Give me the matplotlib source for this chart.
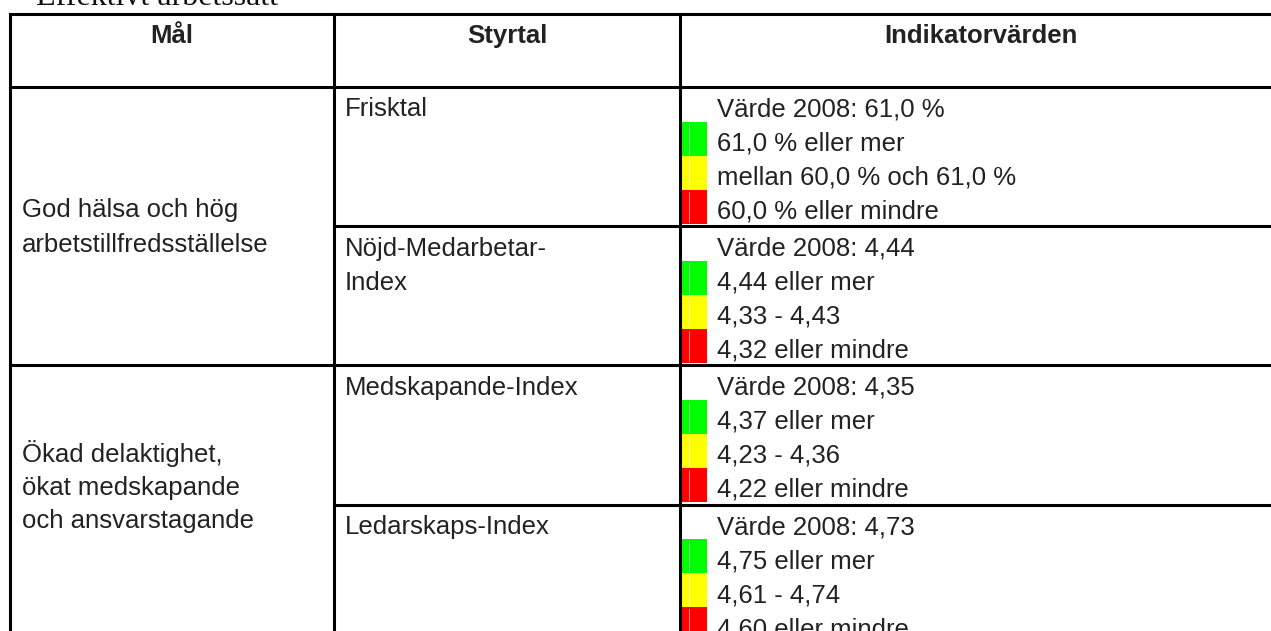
import matplotlib
matplotlib.use("Agg")
import matplotlib.pyplot as plt
from matplotlib.patches import Rectangle

# ---- data ----
title = "Effektivt arbetssätt"
headers = ["Mål", "Styrtal", "Indikatorvärden"]
goals = [["God hälsa och hög", "arbetstillfredsställelse"],
         ["Ökad delaktighet,", "ökat medskapande", "och ansvarstagande"]]
metrics = [["Frisktal"], ["Nöjd-Medarbetar-", "Index"],
           ["Medskapande-Index"], ["Ledarskaps-Index"]]
metric_goal = [0, 0, 1, 1]
indicators = [
    ["Värde 2008: 61,0 %", "61,0 % eller mer", "mellan 60,0 % och 61,0 %", "60,0 % eller mindre"],
    ["Värde 2008: 4,44", "4,44 eller mer", "4,33 - 4,43", "4,32 eller mindre"],
    ["Värde 2008: 4,35", "4,37 eller mer", "4,23 - 4,36", "4,22 eller mindre"],
    ["Värde 2008: 4,73", "4,75 eller mer", "4,61 - 4,74", "4,60 eller mindre"],
]
status_colors = [None, "#00ff00", "#ffff00", "#ff0000"]

# ---- layout (pixels) ----
W, H = 1271, 631
fig = plt.figure(figsize=(W / 100, H / 100), dpi=100)
ax = fig.add_axes([0, 0, 1, 1])
ax.set_xlim(0, W)
ax.set_ylim(H, 0)
ax.axis("off")

col_x = [10, 334, 680, 1282]
top = 13.5
head_bot = 87
row_h = 139.2
line_h = 34
lw = 2.2
font = "Liberation Sans"
fs = 18.5
tc = "#222222"
goal_mid_baseline = [234.5, 495]
goal_spacing = [36, 33]

# title
ax.text(36, 5, title, family="Liberation Serif", fontsize=23, va="baseline", ha="left", color="#111")

# headers
for i, h in enumerate(headers):
    ax.text((col_x[i] + col_x[i + 1]) / 2, 43, h, family=font, fontsize=fs, fontweight="bold",
            ha="center", va="baseline", color=tc)

# metric rows
for r, (m, ind) in enumerate(zip(metrics, indicators)):
    y0 = head_bot + r * row_h
    for k, t in enumerate(m):
        ax.text(345, y0 + 29.5 + k * line_h, t, family=font, fontsize=fs, ha="left", va="baseline", color=tc)
    for k, t in enumerate(ind):
        yb = y0 + 29.5 + k * line_h
        c = status_colors[k]
        if c:
            ax.add_patch(Rectangle((col_x[2], yb - 29), 27, 34, facecolor=c, edgecolor="none", zorder=1))
            ax.plot([689, 689], [yb - 27, yb + 3], color="white", lw=0.6, alpha=0.7, zorder=2)
        ax.text(717, yb, t, family=font, fontsize=fs, ha="left", va="baseline", color=tc, zorder=3)

# goal text
for g, lines in enumerate(goals):
    n = len(lines)
    for k, t in enumerate(lines):
        ax.text(22, goal_mid_baseline[g] + (k - (n - 1) / 2) * goal_spacing[g], t, family=font,
                fontsize=fs, ha="left", va="baseline", color=tc)

# grid lines
kw = dict(color="black", lw=lw, solid_capstyle="projecting", zorder=5)
ax.plot([col_x[0], W + 5], [top, top], **kw)
ax.plot([col_x[0], W + 5], [head_bot, head_bot], **kw)
for r in range(1, len(metrics) + 1):
    y = head_bot + r * row_h
    if r < len(metric_goal) and metric_goal[r] != metric_goal[r - 1]:
        ax.plot([col_x[0], W + 5], [y, y], **kw)
    else:
        ax.plot([col_x[1], W + 5], [y, y], **kw)
for x in col_x[:3]:
    ax.plot([x, x], [top, H + 20], **kw)

fig.savefig("out.png", dpi=100)
